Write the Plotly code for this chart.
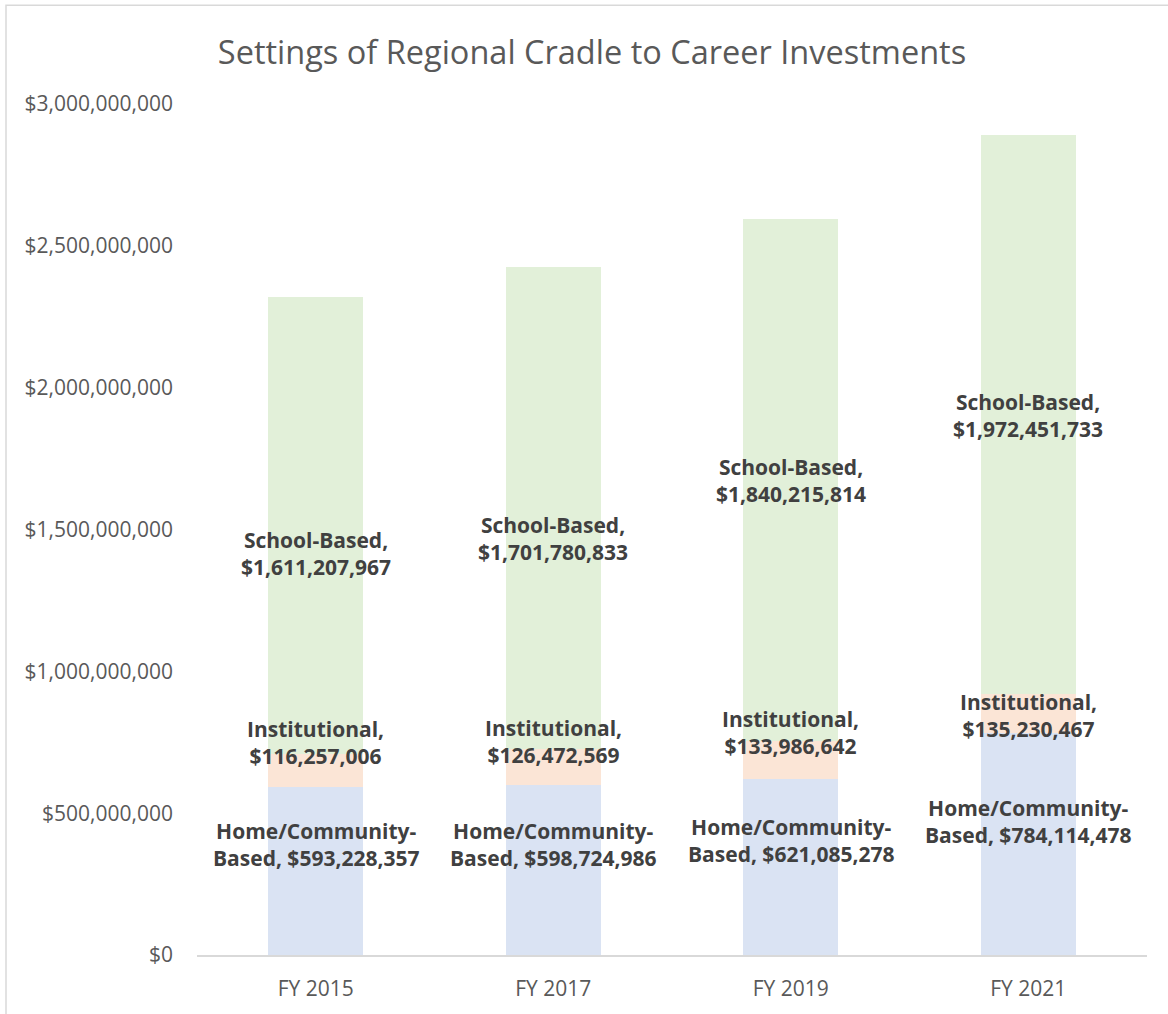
import plotly.graph_objects as go

categories = ["FY 2015", "FY 2017", "FY 2019", "FY 2021"]
home_community = [593228357, 598724986, 621085278, 784114478]
institutional = [116257006, 126472569, 133986642, 135230467]
school_based = [1611207967, 1701780833, 1840215814, 1972451733]

# label anchor heights (data units)
home_label_y = [0.390e9, 0.390e9, 0.404e9, 0.471e9]
inst_label_y = [0.749e9, 0.753e9, 0.784e9, 0.844e9]
school_label_y = [1.414e9, 1.467e9, 1.674e9, 1.903e9]

FONT = "Open Sans"
W, H = 1168, 1014
L, R, T, B = 197, 21, 104, 57

fig = go.Figure()
fig.add_bar(x=categories, y=home_community, name="Home/Community-Based",
            marker=dict(color="#DAE3F3", line=dict(width=0)))
fig.add_bar(x=categories, y=institutional, name="Institutional",
            marker=dict(color="#FBE5D6", line=dict(width=0)))
fig.add_bar(x=categories, y=school_based, name="School-Based",
            marker=dict(color="#E2F0D9", line=dict(width=0)))

ann = []
for i, c in enumerate(categories):
    for txt, yy in [
        (f"Home/Community-<br>Based, ${home_community[i]:,}", home_label_y[i]),
        (f"Institutional,<br>${institutional[i]:,}", inst_label_y[i]),
        (f"School-Based,<br>${school_based[i]:,}", school_label_y[i]),
    ]:
        ann.append(dict(x=c, y=yy, xref="x", yref="y", text=txt, showarrow=False,
                        font=dict(family=FONT, size=21, color="#404040", weight="bold"),
                        align="center", xanchor="center", yanchor="middle"))

pw = W - L - R
ph = H - T - B
fig.add_shape(type="rect", xref="paper", yref="paper",
              x0=(6 - L) / pw, x1=(W + 20 - L) / pw,
              y0=-(H + 20 - (H - B)) / ph, y1=(H - B - 5) / ph,
              line=dict(color="#D9D9D9", width=1.5), fillcolor="rgba(0,0,0,0)", layer="below")

fig.update_layout(
    width=W, height=H,
    margin=dict(l=L, r=R, t=T, b=B),
    barmode="stack", bargap=0.6,
    plot_bgcolor="white", paper_bgcolor="white",
    showlegend=False,
    title=dict(text="Settings of Regional Cradle to Career Investments",
               x=592 / W, xanchor="center", y=1 - 53 / H, yanchor="middle",
               font=dict(family=FONT, size=32.5, color="#595959")),
    annotations=ann,
    font=dict(family=FONT),
)
fig.update_yaxes(range=[0, 3e9], dtick=5e8, tickprefix="$", tickformat=",.0f",
                 showgrid=False, zeroline=False, showline=False,
                 tickfont=dict(family=FONT, size=21, color="#595959"),
                 ticklabelstandoff=23)
fig.update_xaxes(showgrid=False, showline=True, linecolor="#D9D9D9", linewidth=1.5,
                 tickfont=dict(family=FONT, size=21, color="#595959"),
                 ticks="", ticklabelstandoff=14)

fig.write_html("out.html", config={"displayModeBar": False},
               post_script="document.body.style.margin='0';document.body.style.overflow='hidden';")
